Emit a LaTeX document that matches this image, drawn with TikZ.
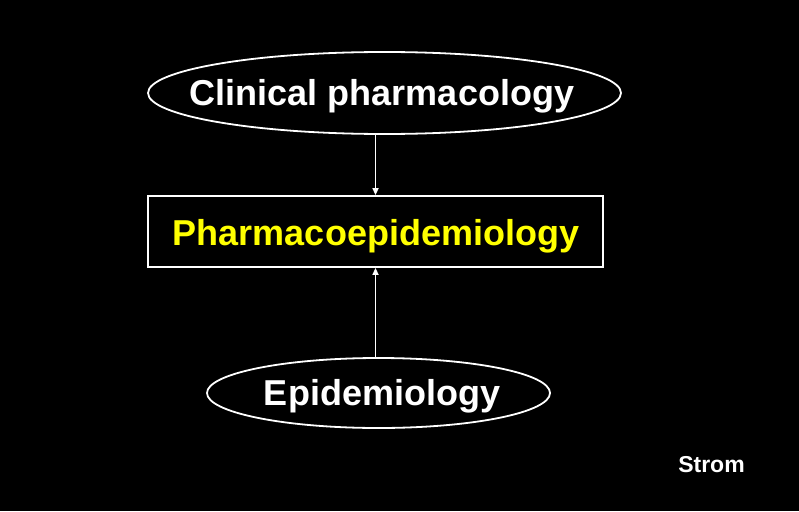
\documentclass[tikz,border=0pt]{standalone}
\usepackage{fontspec}
\setmainfont{Liberation Sans}
\usetikzlibrary{shapes.geometric,arrows.meta}
\definecolor{labelyellow}{RGB}{255,255,0}
\begin{document}
\begin{tikzpicture}[x=1pt,y=-1pt,
  outline/.style={draw=white,line width=1.8pt},
  lbl/.style={text=white,font=\fontsize{36}{40}\selectfont\bfseries,anchor=base,inner sep=0},
  conn/.style={draw=white,line width=1.6pt,-{Triangle[length=7pt,width=6pt]}}]
\fill[black] (0,0) rectangle (799,511);
\useasboundingbox (0,0) rectangle (799,511);
\node[outline,ellipse,minimum width=473pt,minimum height=82pt,inner sep=0] (clin) at (384.5,93) {};
\node[outline,rectangle,minimum width=455pt,minimum height=71pt,inner sep=0] (pe) at (375.5,231.5) {};
\node[outline,ellipse,minimum width=343pt,minimum height=70pt,inner sep=0] (epi) at (378.5,393) {};
\node[lbl] (clinT) at (382,105) {Clinical pharmacology};
\node[lbl,text=labelyellow] (peT) at (376,245) {Pharmacoepidemiology};
\node[lbl] (epiT) at (382,405) {Epidemiology};
\node[lbl,font=\fontsize{23}{26}\selectfont\bfseries] (strom) at (711.5,472) {Strom};
\draw[conn] (clin.south -| pe.north) -- (pe.north);
\draw[conn] (epi.north -| pe.south) -- (pe.south);
\end{tikzpicture}
\end{document}
